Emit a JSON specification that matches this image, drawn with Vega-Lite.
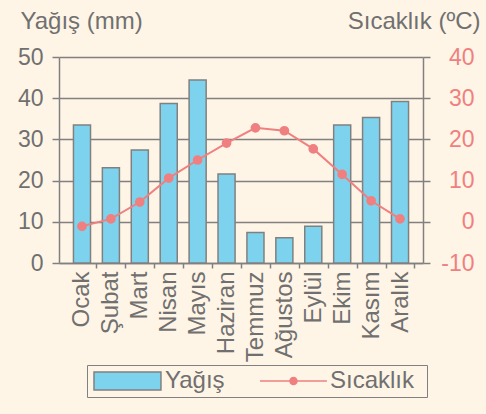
{
  "$schema": "https://vega.github.io/schema/vega-lite/v6.json",
  "width": 364,
  "height": 206,
  "autosize": {"type": "none"},
  "padding": {"left": 59, "top": 57, "right": 63, "bottom": 151},
  "background": "#fff5e6",
  "config": {
    "view": {"stroke": null},
    "font": "Liberation Sans",
    "axis": {
      "labelFont": "Liberation Sans",
      "titleFont": "Liberation Sans",
      "labelColor": "#707070",
      "titleColor": "#707070",
      "domainColor": "#808080",
      "tickColor": "#808080",
      "gridColor": "#808080",
      "domainWidth": 1.5,
      "tickWidth": 1.5,
      "gridWidth": 1.5,
      "labelFontSize": 23,
      "titleFontSize": 24,
      "titleFontWeight": "normal"
    }
  },
  "data": {
    "values": [
      {"ay": "Ocak", "yagis": 33.5, "sicaklik": -1.1},
      {"ay": "Şubat", "yagis": 23.1, "sicaklik": 0.7},
      {"ay": "Mart", "yagis": 27.4, "sicaklik": 4.8},
      {"ay": "Nisan", "yagis": 38.7, "sicaklik": 10.6},
      {"ay": "Mayıs", "yagis": 44.4, "sicaklik": 15.0},
      {"ay": "Haziran", "yagis": 21.6, "sicaklik": 19.1},
      {"ay": "Temmuz", "yagis": 7.4, "sicaklik": 22.8},
      {"ay": "Ağustos", "yagis": 6.1, "sicaklik": 22.1},
      {"ay": "Eylül", "yagis": 8.9, "sicaklik": 17.7},
      {"ay": "Ekim", "yagis": 33.5, "sicaklik": 11.5},
      {"ay": "Kasım", "yagis": 35.3, "sicaklik": 5.1},
      {"ay": "Aralık", "yagis": 39.2, "sicaklik": 0.7}
    ]
  },
  "layer": [
    {
      "mark": {"type": "bar", "stroke": "#808080", "strokeWidth": 1.5},
      "encoding": {
        "x": {
          "field": "ay",
          "type": "nominal",
          "sort": null,
          "scale": {"paddingInner": 0.41, "paddingOuter": 0.5},
          "axis": {
            "title": null,
            "labelAngle": -90,
            "labelFontSize": 24,
            "tickSize": 5,
            "labelPadding": 3,
            "tickOffset": 14.45,
            "labelOffset": -14.45,
            "grid": false
          }
        },
        "y": {
          "field": "yagis",
          "type": "quantitative",
          "scale": {"domain": [0, 50]},
          "axis": {
            "title": "Yağış (mm)",
            "titleAngle": 0,
            "titleAlign": "left",
            "titleBaseline": "alphabetic",
            "titleX": -39,
            "titleY": -29,
            "values": [0, 10, 20, 30, 40, 50],
            "tickSize": 7,
            "labelPadding": 9,
            "grid": true
          }
        },
        "fill": {
          "datum": "Yağış",
          "scale": {"domain": ["Yağış"], "range": ["#7dd3ee"]},
          "legend": {
            "orient": "none",
            "legendX": 28,
            "legendY": 308,
            "direction": "horizontal",
            "title": null,
            "padding": 4,
            "strokeColor": "#808080",
            "labelFontSize": 24,
            "labelColor": "#707070",
            "labelFont": "Liberation Sans",
            "labelLimit": 500,
            "symbolSize": 324,
            "symbolType": "M-1,-1H6.44V1H-1ZM35.2,0",
            "symbolStrokeColor": "#808080",
            "symbolStrokeWidth": 1.5,
            "labelOffset": 50
          }
        }
      }
    },
    {
      "mark": {"type": "line", "color": "#f08080", "strokeWidth": 2, "point": {"filled": true, "size": 60, "fill": "#f08080"}},
      "encoding": {
        "x": {"field": "ay", "type": "nominal", "sort": null},
        "y": {
          "field": "sicaklik",
          "type": "quantitative",
          "scale": {"domain": [-10, 40]},
          "axis": {
            "orient": "right",
            "title": "Sıcaklık (ºC)",
            "titleAngle": 0,
            "titleAlign": "right",
            "titleBaseline": "alphabetic",
            "titleX": 57,
            "titleY": -29,
            "values": [-10, 0, 10, 20, 30, 40],
            "labelExpr": "'' + datum.value",
            "labelColor": "#f08080",
            "labelAlign": "right",
            "labelPadding": 44,
            "tickSize": 7,
            "grid": false
          }
        },
        "stroke": {
          "datum": "Sıcaklık",
          "scale": {"domain": ["Sıcaklık"], "range": ["#f08080"]},
          "legend": {
            "orient": "none",
            "legendX": 194,
            "legendY": 308,
            "direction": "horizontal",
            "title": null,
            "padding": 4,
            "labelFontSize": 24,
            "labelColor": "#707070",
            "labelFont": "Liberation Sans",
            "labelLimit": 500,
            "symbolSize": 324,
            "symbolType": "M-1,0H6.44M3.11,0A0.39,0.39 0 1 0 2.33,0A0.39,0.39 0 1 0 3.11,0M3,0A0.28,0.28 0 1 0 2.44,0A0.28,0.28 0 1 0 3,0M2.89,0A0.17,0.17 0 1 0 2.55,0A0.17,0.17 0 1 0 2.89,0M2.78,0A0.06,0.06 0 1 0 2.66,0A0.06,0.06 0 1 0 2.78,0",
            "symbolStrokeWidth": 1.5,
            "labelOffset": 49
          }
        }
      }
    }
  ],
  "resolve": {"scale": {"y": "independent"}}
}
